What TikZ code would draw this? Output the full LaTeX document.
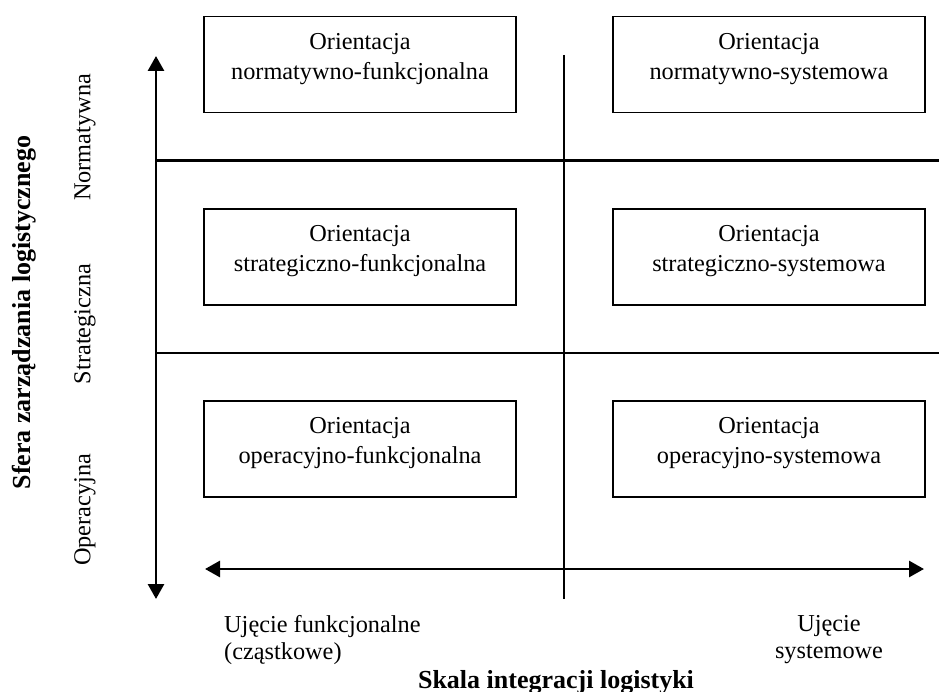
\documentclass[tikz,border=0pt]{standalone}
\usepackage{fontspec}
\setmainfont{Liberation Serif}
\usetikzlibrary{arrows.meta}
\begin{document}
\begin{tikzpicture}[x=1pt,y=-1pt,
  cellbox/.style={draw,line width=1.7pt,minimum width=312pt,minimum height=96pt,inner sep=0pt},
  boxtext/.style={align=center,font=\fontsize{24.3}{30}\selectfont,inner sep=0pt,yshift=5.5pt},
  lbl/.style={font=\fontsize{24.3}{27}\selectfont,inner sep=0pt},
  boldlbl/.style={font=\fontsize{26}{30}\selectfont\bfseries,inner sep=0pt},
  axisarrow/.style={line width=2.8pt,{Triangle[length=15pt,width=16pt]}-{Triangle[length=15pt,width=16pt]}},
  gridline/.style={line width=2.2pt}]
\useasboundingbox (0,0) rectangle (939,692);
% boxes
\node[cellbox] (b11) at (360,64.5) {};
\node[cellbox] (b12) at (769,64.5) {};
\node[cellbox] (b21) at (360,257) {};
\node[cellbox] (b22) at (769,257) {};
\node[cellbox] (b31) at (360,449) {};
\node[cellbox] (b32) at (769,449) {};
\node[boxtext] (t11) at (b11.center) {Orientacja\\normatywno-funkcjonalna};
\node[boxtext] (t12) at (b12.center) {Orientacja\\normatywno-systemowa};
\node[boxtext] (t21) at (b21.center) {Orientacja\\strategiczno-funkcjonalna};
\node[boxtext] (t22) at (b22.center) {Orientacja\\strategiczno-systemowa};
\node[boxtext] (t31) at (b31.center) {Orientacja\\operacyjno-funkcjonalna};
\node[boxtext] (t32) at (b32.center) {Orientacja\\operacyjno-systemowa};
% axes and grid
\coordinate (vtop) at (156,56);
\coordinate (vbot) at (156,599);
\coordinate (hl) at (205,569);
\coordinate (hr) at (924,569);
\coordinate (g1l) at (156,160.5);
\coordinate (g1r) at (939,160.5);
\coordinate (g2l) at (156,352.7);
\coordinate (g2r) at (939,352.7);
\coordinate (ctop) at (564,55);
\coordinate (cbot) at (564,599);
\draw[gridline] (g1l) -- (g1r);
\draw[gridline] (g2l) -- (g2r);
\draw[line width=2pt] (ctop) -- (cbot);
\draw[axisarrow] (vbot) -- (vtop);
\draw[axisarrow] (hl) -- (hr);
% labels
\node[lbl,rotate=90] (lnorm) at (85,137.5) {Normatywna};
\node[lbl,rotate=90] (lstrat) at (85,324) {Strategiczna};
\node[lbl,rotate=90] (loper) at (85,510) {Operacyjna};
\node[boldlbl,rotate=90] (lsfera) at (24,312.5) {Sfera zarządzania logistycznego};
\node[lbl,align=left,anchor=north west] (lfun) at (224,615.5) {Ujęcie funkcjonalne\\(cząstkowe)};
\node[lbl,align=center,anchor=north] (lsys) at (829,615.5) {Ujęcie\\systemowe};
\node[boldlbl,anchor=base] (lskala) at (556,688) {Skala integracji logistyki};
\end{tikzpicture}
\end{document}
